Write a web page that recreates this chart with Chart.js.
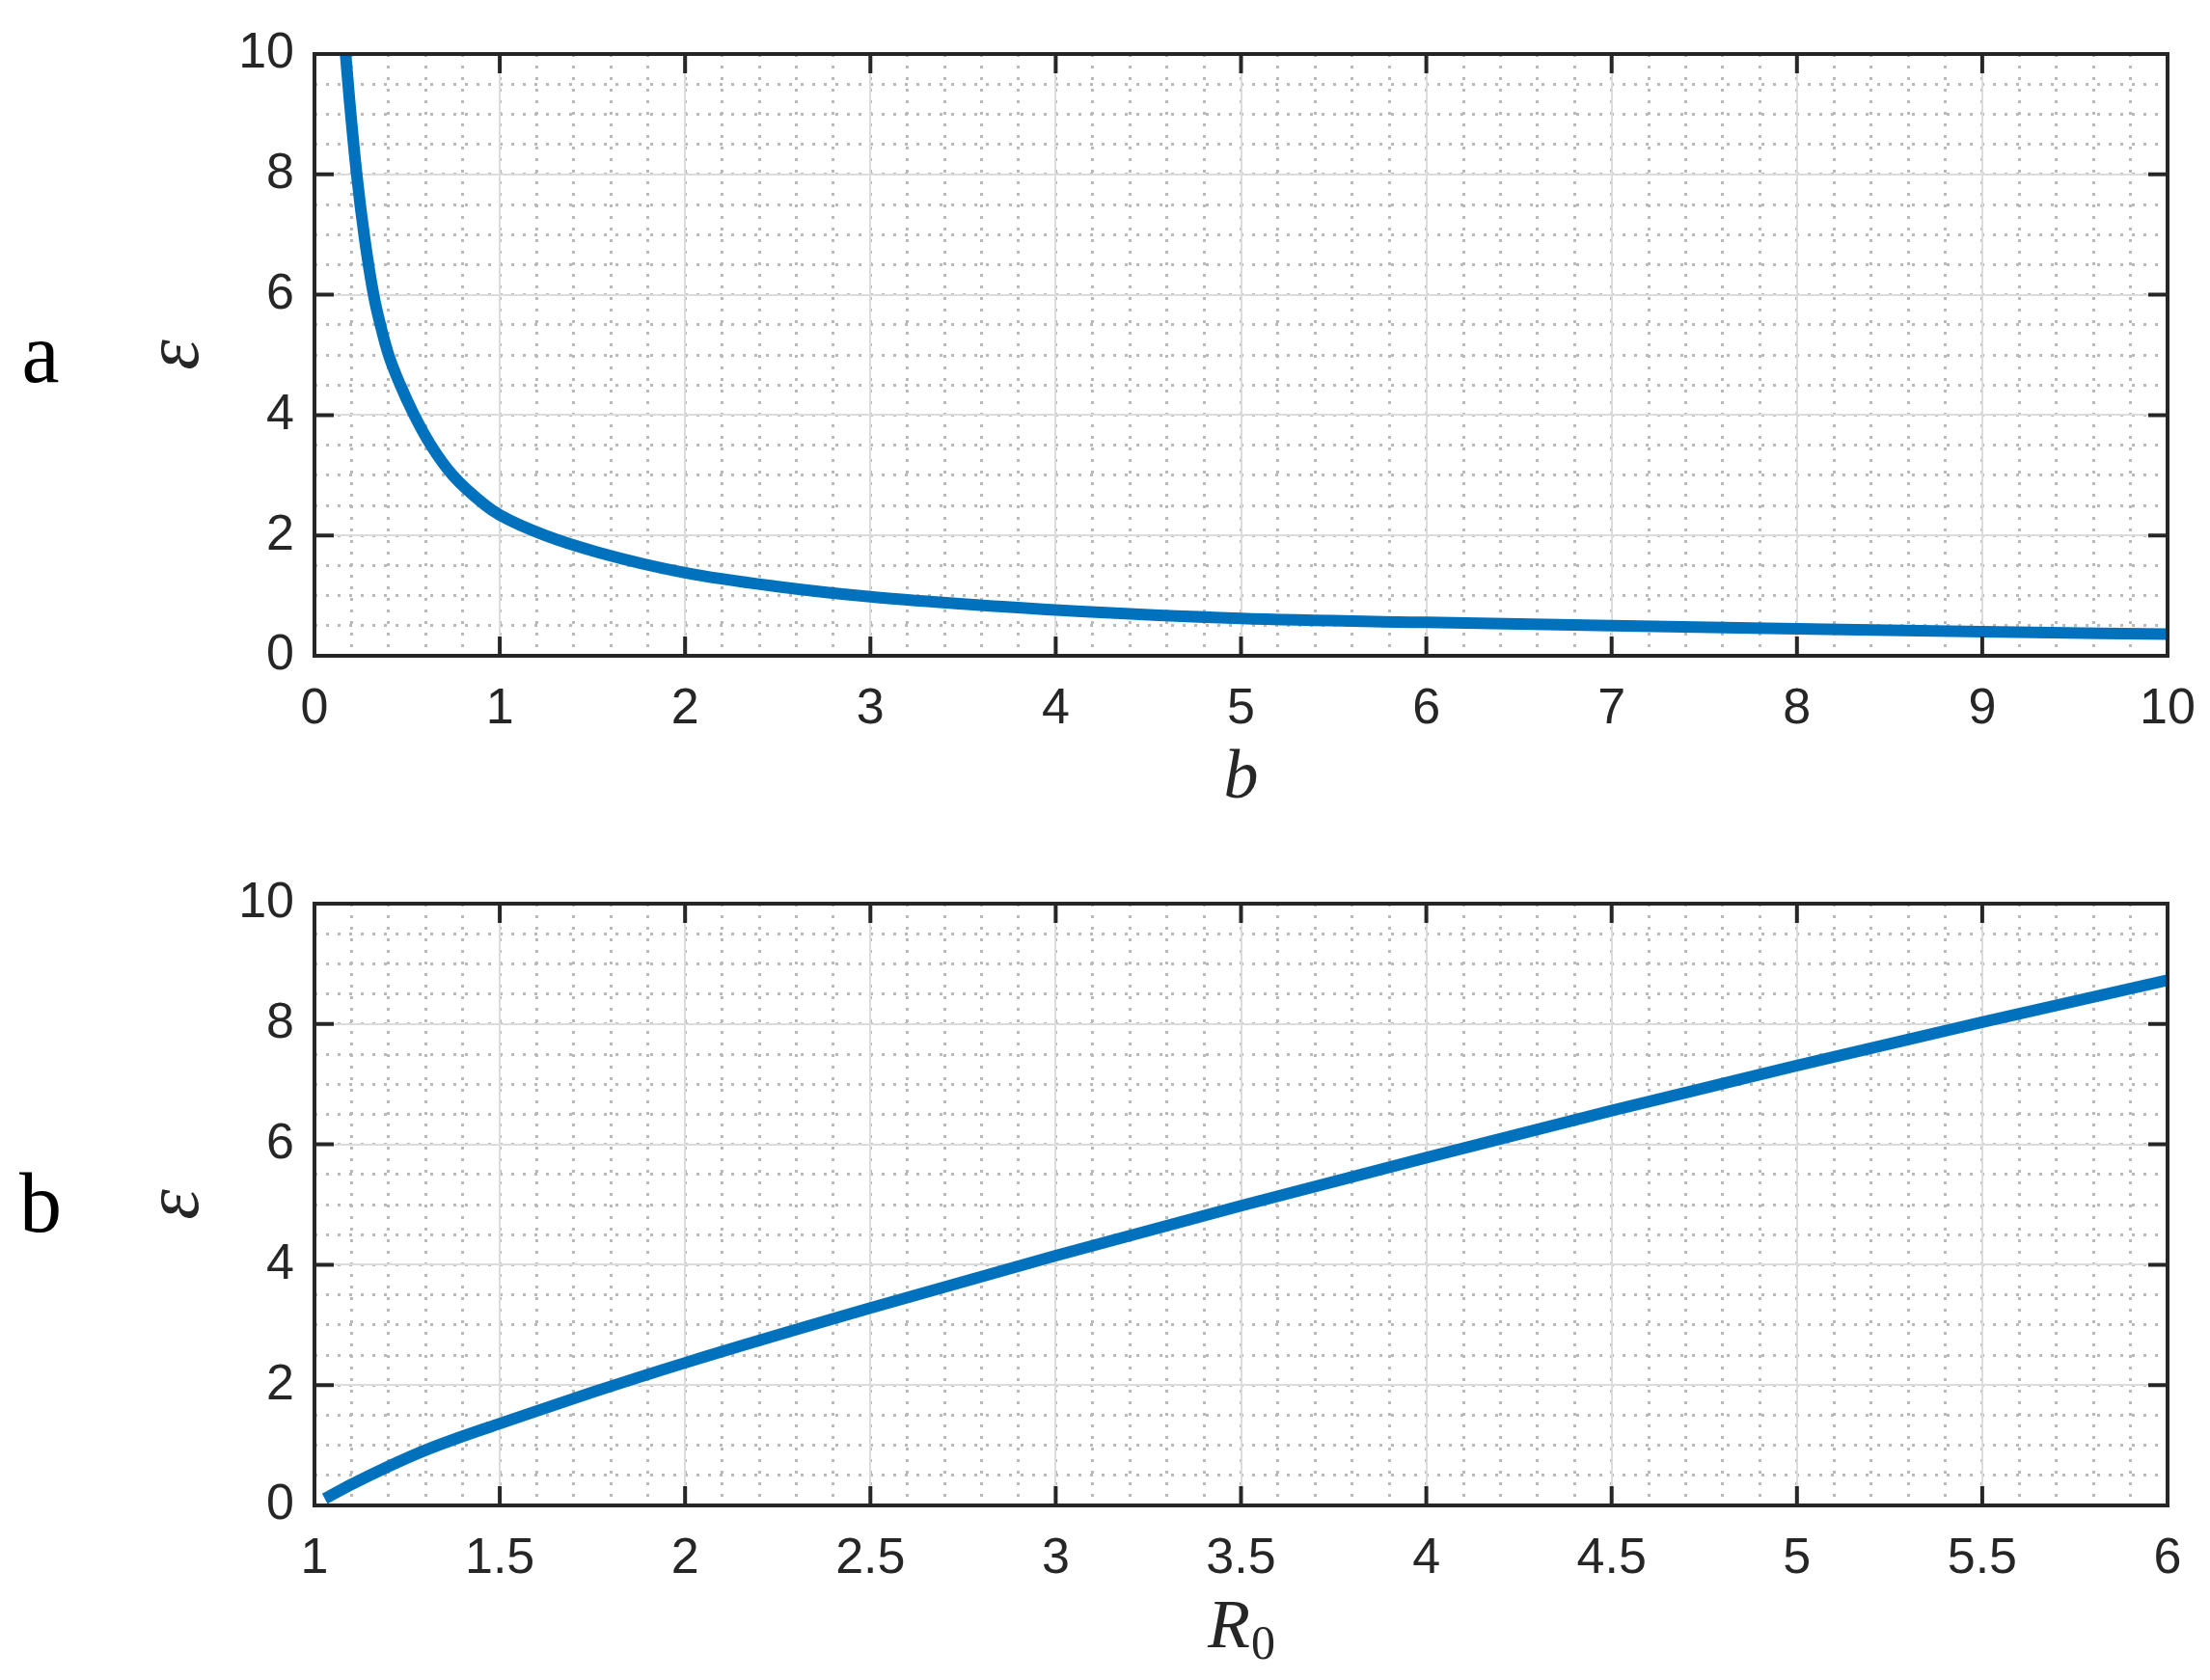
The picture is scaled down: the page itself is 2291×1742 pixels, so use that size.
<!DOCTYPE html>
<html>
<head>
<meta charset="utf-8">
<script src="https://cdn.jsdelivr.net/npm/chart.js@4.4.1/dist/chart.umd.min.js"></script>
<style>
  html, body { margin: 0; padding: 0; background: #fff; }
  #wrap { position: relative; width: 2291px; height: 1742px; }
  canvas { position: absolute; left: 0; }
</style>
</head>
<body>
<div id="wrap">
  <canvas id="chart_b" width="2291" height="871" style="top:0"></canvas>
  <canvas id="chart_r0" width="2291" height="871" style="top:871px"></canvas>
</div>
<script>
// panel a: epsilon against b
var bValues = [0.168, 0.19, 0.228, 0.27, 0.319, 0.358, 0.40, 0.463, 0.538, 0.628, 0.746, 0.923, 1.0,
               1.245, 1.53, 2.0, 2.5, 3.0, 3.5, 4.0, 5.0, 6.0, 7.0, 8.0, 9.0, 10.0];
var epsByB = [10.0, 9.2, 8.0, 6.95, 6.0, 5.47, 5.0, 4.5, 4.0, 3.5, 3.0, 2.5, 2.34,
              2.0, 1.72, 1.38, 1.15, 0.98, 0.86, 0.76, 0.62, 0.555, 0.50, 0.45, 0.40, 0.36];

// panel b: epsilon against R0
var r0Values = [1.028, 1.1, 1.2, 1.3, 1.4, 1.5, 1.75, 2.0, 2.5, 3.0, 3.5, 4.0, 4.5, 5.0, 5.5, 6.0];
var epsByR0 = [0.11, 0.35, 0.65, 0.92, 1.15, 1.36, 1.88, 2.37, 3.28, 4.15, 4.98, 5.78, 6.56, 7.31, 8.03, 8.73];

// tick labels
var bTicks = [0, 1, 2, 3, 4, 5, 6, 7, 8, 9, 10];
var r0Ticks = [1, 1.5, 2, 2.5, 3, 3.5, 4, 4.5, 5, 5.5, 6];
var epsTicks = [0, 2, 4, 6, 8, 10];

var AXIS_COLOR = '#262626';
var tickFont = { family: '"Liberation Sans", Arial, Helvetica, sans-serif', size: 52 };

// box, inward ticks and the serif labels, drawn like a matlab axes
var matlabAxes = {
  id: 'matlabAxes',
  afterDatasetsDraw: function(chart, args, opts) {
    var ctx = chart.ctx, a = chart.chartArea;
    var xs = chart.scales.x, ys = chart.scales.y;
    var midX = (a.left + a.right) / 2, midY = (a.top + a.bottom) / 2;
    ctx.save();
    ctx.strokeStyle = AXIS_COLOR;
    ctx.lineWidth = 4;
    ctx.beginPath();
    xs.ticks.forEach(function(t) {
      var px = xs.getPixelForValue(t.value);
      ctx.moveTo(px, a.bottom); ctx.lineTo(px, a.bottom - 20);
      ctx.moveTo(px, a.top); ctx.lineTo(px, a.top + 20);
    });
    ys.ticks.forEach(function(t) {
      var py = ys.getPixelForValue(t.value);
      ctx.moveTo(a.left, py); ctx.lineTo(a.left + 20, py);
      ctx.moveTo(a.right, py); ctx.lineTo(a.right - 20, py);
    });
    ctx.stroke();
    ctx.strokeRect(a.left, a.top, a.right - a.left, a.bottom - a.top);

    // panel letter
    ctx.fillStyle = '#000';
    ctx.font = '88px "Liberation Serif", "Times New Roman", serif';
    ctx.textAlign = 'center';
    ctx.textBaseline = 'alphabetic';
    ctx.fillText(opts.letter, 42, midY + 28);

    // y title
    ctx.fillStyle = AXIS_COLOR;
    ctx.save();
    ctx.translate(a.left - 121, midY);
    ctx.rotate(-Math.PI / 2);
    ctx.font = 'italic 80px "Liberation Serif", "Times New Roman", serif';
    ctx.fillText('\u03b5', 0, 0);
    ctx.restore();

    // x title, with optional subscript
    var base = a.bottom + 147;
    ctx.font = 'italic 72px "Liberation Serif", "Times New Roman", serif';
    var w1 = ctx.measureText(opts.xTitle).width;
    var w2 = 0;
    if (opts.xSub) {
      ctx.font = '50px "Liberation Serif", "Times New Roman", serif';
      w2 = ctx.measureText(opts.xSub).width;
    }
    var x0 = midX - (w1 + w2) / 2;
    ctx.textAlign = 'left';
    ctx.font = 'italic 72px "Liberation Serif", "Times New Roman", serif';
    ctx.fillText(opts.xTitle, x0, base);
    if (opts.xSub) {
      ctx.font = '50px "Liberation Serif", "Times New Roman", serif';
      ctx.fillText(opts.xSub, x0 + w1 + 1, base + 12);
    }
    ctx.restore();
  }
};

function makeChart(canvasId, cfg) {
  var points = cfg.xs.map(function(x, i) { return { x: x, y: cfg.ys[i] }; });
  return new Chart(document.getElementById(canvasId), {
    type: 'line',
    data: {
      datasets: [{
        data: points,
        borderColor: '#0072BD',
        borderWidth: 12,
        pointRadius: 0,
        fill: false,
        cubicInterpolationMode: 'monotone',
        borderCapStyle: 'butt',
        borderJoinStyle: 'round'
      }]
    },
    plugins: [matlabAxes],
    options: {
      responsive: false,
      animation: false,
      devicePixelRatio: 1,
      events: [],
      layout: { padding: { left: 0, right: 44, top: cfg.top, bottom: 0 } },
      plugins: {
        legend: { display: false },
        tooltip: { enabled: false },
        matlabAxes: { letter: cfg.letter, xTitle: cfg.xTitle, xSub: cfg.xSub }
      },
      scales: {
        xMinor: {
          type: 'linear', position: 'bottom', min: cfg.xMin, max: cfg.xMax,
          ticks: { display: false, stepSize: cfg.xMinorStep },
          grid: { color: '#b9b9b9', lineWidth: 3, drawTicks: false },
          border: { display: false, dash: [3, 9] },
          afterFit: function(s) { s.height = 0; }
        },
        yMinor: {
          type: 'linear', position: 'left', min: 0, max: 10,
          ticks: { display: false, stepSize: 0.5 },
          grid: { color: '#b9b9b9', lineWidth: 3, drawTicks: false },
          border: { display: false, dash: [3, 9] },
          afterFit: function(s) { s.width = 0; }
        },
        x: {
          type: 'linear', position: 'bottom', min: cfg.xMin, max: cfg.xMax,
          afterBuildTicks: function(s) { s.ticks = cfg.xTicks.map(function(v) { return { value: v }; }); },
          ticks: { font: tickFont, color: AXIS_COLOR, padding: 24, autoSkip: false, maxRotation: 0,
                   callback: function(v) { return String(v); } },
          grid: { color: '#dcdcdc', lineWidth: 2, drawTicks: false },
          border: { display: false },
          afterFit: function(s) { s.height = cfg.xAxisH; s.paddingLeft = 0; s.paddingRight = 0; }
        },
        y: {
          type: 'linear', position: 'left', min: 0, max: 10,
          afterBuildTicks: function(s) { s.ticks = epsTicks.map(function(v) { return { value: v }; }); },
          ticks: { font: tickFont, color: AXIS_COLOR, padding: 21,
                   callback: function(v) { return String(v); } },
          grid: { color: '#dcdcdc', lineWidth: 2, drawTicks: false },
          border: { display: false },
          afterFit: function(s) { s.width = 326; s.paddingTop = 0; s.paddingBottom = 0; }
        }
      }
    }
  });
}

makeChart('chart_b', {
  xs: bValues, ys: epsByB, xMin: 0, xMax: 10, xTicks: bTicks, xMinorStep: 0.2,
  top: 56, xAxisH: 191, letter: 'a', xTitle: 'b'
});
makeChart('chart_r0', {
  xs: r0Values, ys: epsByR0, xMin: 1, xMax: 6, xTicks: r0Ticks, xMinorStep: 0.1,
  top: 66, xAxisH: 181, letter: 'b', xTitle: 'R', xSub: '0'
});
</script>
</body>
</html>
